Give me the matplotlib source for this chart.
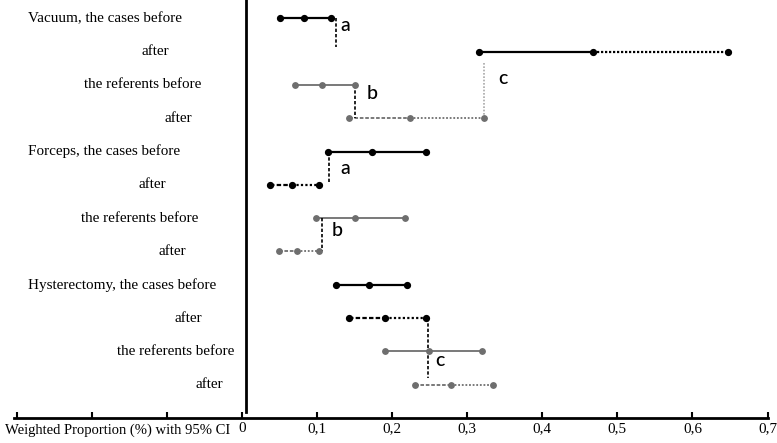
import matplotlib
matplotlib.use("Agg")
import matplotlib.pyplot as plt
import matplotlib.transforms as mtransforms

# rows from top to bottom
labels = ["Vacuum, the cases before", "after", "the referents before", "after",
          "Forceps, the cases before", "after", "the referents before", "after",
          "Hysterectomy, the cases before", "after", "the referents before", "after"]
lower = [0.051, 0.315, 0.071, 0.143, 0.114, 0.037, 0.099, 0.049, 0.125, 0.142, 0.190, 0.230]
est = [0.082, 0.467, 0.106, 0.223, 0.173, 0.066, 0.151, 0.073, 0.169, 0.190, 0.249, 0.278]
upper = [0.118, 0.647, 0.151, 0.322, 0.245, 0.102, 0.217, 0.103, 0.219, 0.245, 0.319, 0.334]
group = ["cases", "cases", "ref", "ref"] * 3
period = ["before", "after"] * 6

# label placement (x position in data units, alignment)
label_x = [-0.286, -0.097, -0.054, -0.067, -0.286, -0.101, -0.058, -0.074,
           -0.286, -0.053, -0.010, -0.025]
label_ha = ["left", "right", "right", "right"] * 3

# significance connectors: x, from row, to row, letter, letter x, letter y
conn_x = [0.125, 0.151, 0.322, 0.116, 0.107, 0.247]
conn_y0 = [1, 3, 4, 5, 7, 10]
conn_y1 = [1.87, 4, 2.32, 5.95, 8, 11.81]
conn_letter = ["a", "b", "c", "a", "b", "c"]
conn_tx = [0.138, 0.173, 0.347, 0.137, 0.126, 0.263]
conn_ty = [1.21, 3.25, 2.80, 5.50, 7.37, 11.27]
conn_color = ["black", "black", "#a8a8a8", "black", "black", "black"]
conn_style = [(0, (2, 1.2)), (0, (2, 1.2)), (0, (1, 1)), (0, (2, 1.2)), (0, (2, 1.2)), (0, (2, 1.2))]

xticks = [-0.3, -0.2, -0.1, 0, 0.1, 0.2, 0.3, 0.4, 0.5, 0.6, 0.7]
xticklabels = ["", "", "", "0", "0,1", "0,2", "0,3", "0,4", "0,5", "0,6", "0,7"]

serif = "Liberation Serif"
fs = 10.9
colors = {"cases": "black", "ref": "#6e6e6e"}

fig = plt.figure(figsize=(7.77, 4.43), dpi=100)
ax = fig.add_axes([0.0185, 0.0564, 0.9698, 0.9436])
ax.set_xlim(-0.3035, 0.7005)
ax.set_ylim(13, 0.45)

for i in range(len(labels)):
    y = i + 1
    c = colors[group[i]]
    lw = 1.6 if group[i] == "cases" else 1.3
    ms = 4.2 if group[i] == "cases" else 3.9
    if period[i] == "before":
        s1, s2 = "-", "-"
    elif i == 1:
        s1, s2 = "-", (0, (1, 0.8))
    else:
        s1, s2 = (0, (2, 1)), (0, (1, 1))
    ax.plot([lower[i], est[i]], [y, y], color=c, lw=lw, linestyle=s1, solid_capstyle="butt")
    ax.plot([est[i], upper[i]], [y, y], color=c, lw=lw, linestyle=s2, solid_capstyle="butt")
    ax.plot([lower[i], est[i], upper[i]], [y, y, y], linestyle="none", marker="o",
            ms=ms, color=c, zorder=4)
    ax.text(label_x[i], y, labels[i], ha=label_ha[i], va="center",
            fontsize=fs, family=serif)

for k in range(len(conn_x)):
    ax.plot([conn_x[k], conn_x[k]], [conn_y0[k], conn_y1[k]], color=conn_color[k],
            lw=1.2, linestyle=conn_style[k])
    ax.text(conn_tx[k], conn_ty[k], conn_letter[k], ha="center", va="center",
            fontsize=14, family="Lato", fontweight="medium")

# y axis line at zero
ax.plot([0.005, 0.005], [0.45, 12.83], color="black", lw=2)

for sp in ["left", "right", "top"]:
    ax.spines[sp].set_visible(False)
ax.spines["bottom"].set_linewidth(2)
ax.set_yticks([])
ax.set_xticks(xticks)
ax.set_xticklabels(xticklabels, family=serif, fontsize=fs)
ax.tick_params(axis="x", direction="in", length=4, width=1.5, pad=3)

trans = mtransforms.blended_transform_factory(ax.transData, ax.transAxes)
ax.text(-0.0155, -0.012, "Weighted Proportion (%) with 95% CI", transform=trans,
        ha="right", va="top", fontsize=10.5, family=serif)

fig.savefig("out.png", dpi=100)
